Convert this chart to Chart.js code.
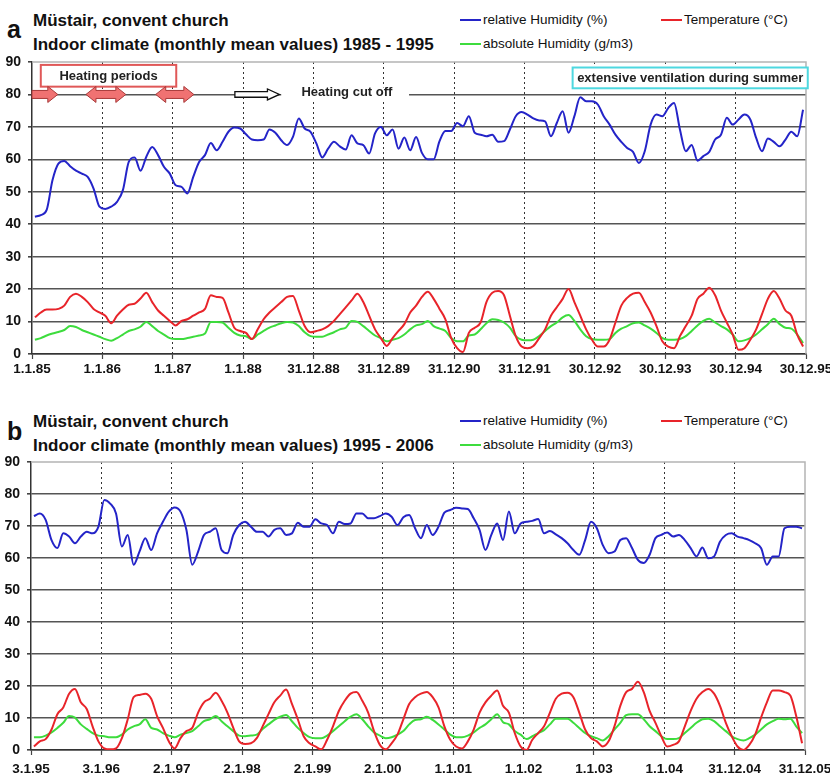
<!DOCTYPE html>
<html>
<head>
<meta charset="utf-8">
<script src="https://cdn.jsdelivr.net/npm/chart.js@4.4.1/dist/chart.umd.min.js"></script>
<style>
  body { margin: 0; background: #fff; }
  #page { position: relative; width: 830px; height: 775px; overflow: hidden; font-family: 'Liberation Sans', Arial, sans-serif; color: #111; }
  canvas { position: absolute; left: 0; }
  .letter { position: absolute; left: 7px; font-weight: bold; font-size: 25px; line-height: 25px; }
  .title { position: absolute; left: 33px; font-weight: bold; font-size: 17px; line-height: 17px; white-space: nowrap; }
  .leg { position: absolute; font-size: 13.5px; line-height: 13.5px; white-space: nowrap; }
  .sw { position: absolute; width: 21px; height: 2px; }
</style>
</head>
<body>
<div id="page">
  <div class="letter" style="top:17px">a</div>
  <div class="title" style="top:12px">Müstair, convent church</div>
  <div class="title" style="top:36px">Indoor climate (monthly mean values) 1985 - 1995</div>
  <div class="sw" style="left:460px;top:19px;background:#2424c8"></div>
  <div class="leg" style="left:483px;top:13px">relative Humidity (%)</div>
  <div class="sw" style="left:661px;top:19px;background:#e8242a"></div>
  <div class="leg" style="left:684px;top:13px">Temperature (°C)</div>
  <div class="sw" style="left:460px;top:43px;background:#3ddc3d"></div>
  <div class="leg" style="left:483px;top:37px">absolute Humidity (g/m3)</div>

  <div class="letter" style="top:419px">b</div>
  <div class="title" style="top:413px">Müstair, convent church</div>
  <div class="title" style="top:437px">Indoor climate (monthly mean values) 1995 - 2006</div>
  <div class="sw" style="left:460px;top:420px;background:#2424c8"></div>
  <div class="leg" style="left:483px;top:414px">relative Humidity (%)</div>
  <div class="sw" style="left:661px;top:420px;background:#e8242a"></div>
  <div class="leg" style="left:684px;top:414px">Temperature (°C)</div>
  <div class="sw" style="left:460px;top:444px;background:#3ddc3d"></div>
  <div class="leg" style="left:483px;top:438px">absolute Humidity (g/m3)</div>

  <canvas id="chartA" width="830" height="380" style="top:0"></canvas>
  <canvas id="chartB" width="830" height="375" style="top:400px"></canvas>
</div>
<script>
// monthly mean values, one per month (Jan 1985 .. Dec 1995)
const topRelHum = [42.3, 42.8, 44.4, 53.6, 58.7, 59.5, 57.9, 56.5, 55.6, 54.6, 51, 45.4,
  44.7, 45.4, 46.9, 50.5, 59.2, 60.6, 56.5, 60.8, 63.8, 61.3, 57.7, 55.6,
  52, 51.5, 49.5, 54.6, 59.2, 61.3, 65, 62.8, 65.4, 68.5, 69.8, 69.5,
  67.7, 66.1, 65.9, 66.1, 69.2, 68.2, 65.9, 64.4, 66.9, 72.6, 69.5, 68.5,
  64.9, 60.6, 63.3, 65.4, 64, 63, 67.4, 64.9, 64.4, 61.8, 68, 70,
  67.4, 69.2, 63.3, 66.7, 62.8, 66.9, 62, 60, 60, 65.6, 68.7, 68.7,
  71.2, 70.2, 73.3, 68.2, 67.6, 67.1, 67.6, 65.4, 65.6, 69.2, 73.3, 74.6,
  73.8, 72.6, 72, 71.7, 67.1, 71.2, 74.8, 68.2, 73.3, 79.1, 77.9, 77.9,
  76.9, 73.3, 70.7, 67.6, 65.4, 63.5, 62.3, 58.9, 62.5, 70.7, 73.8, 73.3,
  75.8, 77.4, 69.2, 62.5, 64.4, 59.6, 61, 62.3, 66.1, 67.6, 72.8, 70.7,
  72.3, 73.8, 72.3, 66.6, 62.5, 66.4, 65.4, 64, 66.1, 68.5, 67.1, 75.3];
const topTemp = [11.3, 12.8, 13.7, 13.7, 13.9, 14.9, 17.6, 18.6, 17.6, 16, 13.9, 12.8,
  11.8, 9.5, 11.8, 13.7, 15.2, 15.5, 17.1, 18.9, 16, 13.4, 11.8, 10.2,
  8.8, 10.2, 10.7, 11.8, 12.8, 13.9, 18.1, 17.6, 17.3, 12.8, 8.1, 7.1,
  6.5, 4.6, 7.6, 10.7, 12.8, 14.4, 16, 17.6, 17.9, 13.4, 8.6, 6.7,
  7.1, 7.6, 8.6, 10.2, 12.3, 14.4, 16.5, 18.6, 16, 11.8, 7.6, 4.9,
  2.5, 4.9, 7.1, 9.2, 12.8, 14.9, 17.6, 19.2, 17, 13.9, 10.7, 4.9,
  1.8, 0.6, 6.5, 8.1, 9.7, 16, 18.9, 19.4, 18.1, 11.8, 5.5, 2.3,
  1.8, 2.5, 4.9, 7.6, 11.8, 14.4, 17, 20, 16, 11.8, 7.6, 4.4,
  2.3, 2.3, 4.4, 9.7, 14.9, 17.3, 18.6, 18.9, 16, 12.8, 8.6, 3.9,
  2.3, 1.8, 5.5, 8.6, 11.8, 17, 18.6, 20.4, 18.1, 13.4, 9.7, 6,
  1.3, 1.8, 4.4, 7.6, 12.3, 17, 19.4, 17, 13.4, 11.8, 6, 2.3];
const topAbsHum = [4.4, 4.9, 5.7, 6.3, 6.8, 7.4, 8.6, 8.3, 7.4, 6.7, 6, 5.3,
  4.6, 4.1, 4.9, 6, 7.1, 7.6, 8.4, 9.9, 8.6, 7.1, 6, 4.9,
  4.6, 4.6, 4.9, 5.3, 5.7, 6.3, 9.9, 9.9, 9.7, 8.1, 6.5, 5.7,
  5.5, 4.6, 6, 7.1, 8.1, 8.8, 9.5, 9.9, 9.7, 8.6, 6.7, 5.5,
  5.3, 5.3, 6, 6.7, 7.6, 8.1, 10.2, 9.9, 8.6, 7.1, 5.7, 4.9,
  3.9, 4.4, 4.9, 6, 7.6, 8.8, 9.2, 10.2, 8.6, 7.8, 7.1, 4.9,
  3.9, 3.9, 5.7, 6, 7.6, 9.5, 10.7, 10.5, 9.7, 8.1, 5.5, 4.4,
  4.2, 4.4, 5.5, 7.1, 8.6, 9.7, 11.3, 12, 10.2, 7.6, 5.5, 4.6,
  4.4, 4.4, 4.6, 6.5, 7.8, 8.6, 9.5, 9.7, 8.8, 7.8, 6.5, 4.9,
  4.4, 4.4, 4.6, 5.5, 7.1, 8.8, 10.2, 10.9, 9.7, 8.6, 7.6, 6,
  3.9, 4.2, 4.9, 6, 7.6, 9.2, 10.9, 9.2, 8.1, 7.8, 6, 3.4];

// monthly mean values, Jan 1995 .. Dec 2005
const botRelHum = [73.1, 73.9, 71.9, 65.6, 63.1, 67.7, 66.7, 64.6, 66.7, 68.2, 67.7, 69.8,
  78.1, 77, 73.9, 63.6, 67.2, 57.9, 62, 66.2, 62.5, 67.7, 71.3, 74.5,
  75.8, 74.5, 68.8, 57.9, 62, 67.2, 68.2, 69.3, 62.5, 61.5, 67.2, 70.3,
  71.3, 69.8, 68.2, 68.2, 66.7, 68.8, 69.3, 67.2, 67.7, 71, 69.8, 69.8,
  72.1, 70.8, 70.3, 67.7, 71.3, 70.6, 70.8, 73.9, 73.9, 72.4, 72.4, 73.1,
  73.9, 72.9, 70.3, 72.7, 73.4, 69.3, 66.2, 70.3, 67.2, 69.8, 74.2, 75,
  75.7, 75.5, 75.3, 72.4, 68.8, 62.5, 67.2, 70.8, 65.6, 74.5, 67.7, 70.8,
  71.3, 71.6, 72.2, 67.7, 68.4, 67.4, 66.2, 64.6, 62.5, 61, 65.6, 71.3,
  69.3, 64.1, 61.5, 62, 65.6, 66.2, 63.1, 59.4, 58.4, 61, 66.2, 67.2,
  68, 66.7, 67.2, 65.6, 63.1, 60.5, 63.3, 59.9, 60.5, 65.1, 67.2, 67.7,
  66.7, 66.2, 65.6, 64.6, 63.1, 57.9, 60.5, 60.5, 69.3, 69.8, 69.8, 69.3];
const botTemp = [1.1, 2.7, 3.4, 6.4, 11.2, 13.3, 17.6, 19.1, 14.9, 12.8, 7.4, 2.7,
  0.5, 0.2, 0.5, 3.7, 9.6, 16.5, 17.2, 17.6, 16, 10.6, 6.9, 2.7,
  0.5, 3.7, 5.9, 6.9, 11.7, 14.9, 16, 17.9, 15.4, 11.7, 6.9, 2.7,
  1.9, 2.1, 3.7, 7.4, 11.2, 14.9, 17, 18.9, 14.4, 9.6, 4.3, 2.1,
  1.1, 0.2, 3.2, 7.4, 12.2, 15.4, 17.6, 18.1, 15.4, 11.7, 5.9, 1.6,
  0.2, 2.1, 4.8, 9.6, 14.4, 16.5, 17.6, 18.1, 16.5, 13.3, 7.4, 3.2,
  1.1, 0.5, 2.7, 6.4, 11.7, 14.9, 17, 18.6, 13.8, 11.7, 5.3, 1.1,
  0, 3.2, 5.3, 7.4, 11.7, 16, 17.6, 17.9, 16.5, 11.7, 6.4, 3.7,
  2.7, 1.1, 2.7, 7.4, 13.8, 18.1, 19.1, 21.3, 18.1, 12.2, 8.5, 4.3,
  1.1, 1.6, 2.7, 7.4, 12.2, 16, 18.1, 19.1, 17.6, 13.8, 8.5, 4.3,
  1.1, 0, 1.6, 4.8, 10.1, 14.9, 18.6, 18.6, 18.1, 17, 10.6, 2.1];
const botAbsHum = [4, 4, 4.5, 5.5, 6.9, 8.5, 10.6, 10.1, 8, 6.6, 5.3, 4.5,
  4.3, 4, 4, 4.8, 6.4, 7.4, 8, 9.6, 6.9, 6.4, 5.3, 4.5,
  4, 4.8, 5.3, 5.9, 7.4, 9, 9.6, 10.6, 9, 7.4, 5.9, 4.5,
  4.3, 4.5, 4.8, 6.6, 8, 9.4, 10.4, 10.9, 9, 6.9, 5.3, 4,
  3.7, 3.7, 4.5, 5.9, 7.4, 9, 10.4, 11.2, 9.6, 7.4, 5.5, 4.5,
  3.7, 4, 4.8, 5.9, 8, 9.4, 9.6, 10.4, 9.4, 8, 6.4, 4.8,
  4, 4, 4.5, 5.5, 6.9, 8, 9.6, 11.2, 8.7, 8, 5.9, 4.8,
  3.4, 4.3, 5.3, 6.2, 8, 9.8, 9.8, 9.8, 8.5, 6.9, 5.3, 4.3,
  3.7, 3, 4.3, 6.4, 8.5, 10.9, 11.2, 11.2, 9.6, 7.4, 5.9, 4.3,
  3.4, 3.4, 3.7, 5.3, 6.9, 8.5, 9.6, 9.8, 9, 7.4, 5.9, 4.3,
  3.4, 3, 3.7, 4.8, 6.4, 8, 9, 9.8, 9.6, 9.8, 7.4, 5.3];

const topTicks = ['1.1.85', '1.1.86', '1.1.87', '1.1.88', '31.12.88', '31.12.89', '31.12.90',
  '31.12.91', '30.12.92', '30.12.93', '30.12.94', '30.12.95'];
const botTicks = ['3.1.95', '3.1.96', '2.1.97', '2.1.98', '2.1.99', '2.1.00', '1.1.01',
  '1.1.02', '1.1.03', '1.1.04', '31.12.04', '31.12.05'];

// heating periods (start month, end month) and the heating cut-off arrow
const heatingPeriods = [[0, 4.4], [9.2, 16.0], [21.1, 27.6]];
const heatingCutOff = [34.6, 42.2];

Chart.defaults.font.family = "'Liberation Sans', Arial, sans-serif";
Chart.defaults.color = '#111';

const series = (vals) => vals.map((v, i) => ({x: i + 0.5, y: v}));

function arrow(ctx, x1, x2, y, both, bh, hh, hl) {
  ctx.beginPath();
  ctx.moveTo(both ? x1 + hl : x1, y - bh);
  ctx.lineTo(x2 - hl, y - bh);
  ctx.lineTo(x2 - hl, y - hh);
  ctx.lineTo(x2, y);
  ctx.lineTo(x2 - hl, y + hh);
  ctx.lineTo(x2 - hl, y + bh);
  if (both) {
    ctx.lineTo(x1 + hl, y + bh);
    ctx.lineTo(x1 + hl, y + hh);
    ctx.lineTo(x1, y);
    ctx.lineTo(x1 + hl, y - hh);
  } else {
    ctx.lineTo(x1, y + bh);
  }
  ctx.closePath();
  ctx.fill();
  ctx.stroke();
}

function labelBox(ctx, x1, y1, x2, y2, color, text) {
  ctx.fillStyle = '#fff';
  ctx.fillRect(x1, y1, x2 - x1, y2 - y1);
  ctx.strokeStyle = color;
  ctx.lineWidth = 2;
  ctx.strokeRect(x1, y1, x2 - x1, y2 - y1);
  ctx.fillStyle = '#222';
  ctx.font = "bold 13px 'Liberation Sans', Arial, sans-serif";
  ctx.textAlign = 'center';
  ctx.textBaseline = 'middle';
  ctx.fillText(text, (x1 + x2) / 2, (y1 + y2) / 2 + 1);
}

const frame = {
  id: 'frame',
  beforeDatasetsDraw(chart) {
    const {ctx, chartArea: a} = chart;
    ctx.save();
    ctx.strokeStyle = '#b4b4b4';
    ctx.lineWidth = 1.5;
    ctx.beginPath();
    ctx.moveTo(a.left, a.top);
    ctx.lineTo(a.right, a.top);
    ctx.lineTo(a.right, a.bottom);
    ctx.stroke();
    ctx.restore();
  }
};

const notes = {
  id: 'notes',
  afterDraw(chart) {
    const {ctx, scales: {x, y}} = chart;
    const y80 = y.getPixelForValue(80);
    ctx.save();
    labelBox(ctx, x.getPixelForValue(1.5), y.getPixelForValue(89.1), x.getPixelForValue(24.6), y.getPixelForValue(82.4), '#e05858', 'Heating periods');

    ctx.fillStyle = '#f07272';
    ctx.strokeStyle = '#a83a3a';
    ctx.lineWidth = 1;
    heatingPeriods.forEach((p, i) => arrow(ctx, x.getPixelForValue(p[0]), x.getPixelForValue(p[1]), y80, i > 0, 4, 8, 10));

    ctx.fillStyle = '#fff';
    ctx.fillRect(x.getPixelForValue(42.5), y80 - 7, x.getPixelForValue(64.3) - x.getPixelForValue(42.5), 14);
    ctx.strokeStyle = '#111';
    ctx.lineWidth = 1.3;
    arrow(ctx, x.getPixelForValue(heatingCutOff[0]), x.getPixelForValue(heatingCutOff[1]), y80, false, 2.8, 5.5, 12);
    ctx.fillStyle = '#222';
    ctx.font = "bold 13px 'Liberation Sans', Arial, sans-serif";
    ctx.textAlign = 'center';
    ctx.textBaseline = 'middle';
    ctx.fillText('Heating cut off', x.getPixelForValue(53.7), y80 - 2);

    labelBox(ctx, x.getPixelForValue(92.2), y.getPixelForValue(88.3), x.getPixelForValue(132.3), y.getPixelForValue(81.9), '#4ed8e0', 'extensive ventilation during summer');
    ctx.restore();
  }
};

function makeChart(id, rh, temp, ah, ticks, box, plugins) {
  return new Chart(document.getElementById(id), {
    type: 'line',
    data: {
      datasets: [
        {label: 'relative Humidity (%)', data: series(rh), borderColor: '#2424c8'},
        {label: 'Temperature (°C)', data: series(temp), borderColor: '#e8242a'},
        {label: 'absolute Humidity (g/m3)', data: series(ah), borderColor: '#3ddc3d'}
      ]
    },
    options: {
      responsive: false,
      animation: false,
      devicePixelRatio: 1,
      elements: {
        line: {borderWidth: 2, tension: 0.4, cubicInterpolationMode: 'monotone'},
        point: {radius: 0}
      },
      layout: {padding: {top: 62, right: box.right, left: 0, bottom: 0}},
      plugins: {legend: {display: false}, tooltip: {enabled: false}},
      scales: {
        x: {
          type: 'linear',
          min: 0,
          max: 132,
          afterFit(s) { s.height = box.xh; s.paddingLeft = 0; s.paddingRight = 0; },
          grid: {
            color: (c) => (c.tick.value === 0 || c.tick.value === 132) ? 'rgba(0,0,0,0)' : '#333',
            lineWidth: 1,
            tickLength: 5,
            tickColor: '#444',
            tickWidth: 1.2
          },
          border: {color: '#333', width: 1.5, dash: [2, 3]},
          ticks: {
            stepSize: 12,
            autoSkip: false,
            maxRotation: 0,
            padding: box.tp,
            font: {size: 13.5, weight: 'bold'},
            callback: (v) => ticks[v / 12]
          }
        },
        y: {
          min: 0,
          max: 90,
          afterFit(s) { s.width = box.yw; s.paddingTop = 0; s.paddingBottom = 0; },
          grid: {
            color: (c) => c.tick.value === 90 ? 'rgba(0,0,0,0)' : '#555',
            lineWidth: 1.6,
            tickLength: 4,
            tickColor: '#444'
          },
          border: {color: '#333', width: 1.5},
          ticks: {stepSize: 10, padding: 7, font: {size: 14, weight: 'bold'}}
        }
      }
    },
    plugins: plugins
  });
}

makeChart('chartA', topRelHum, topTemp, topAbsHum, topTicks, {right: 24, xh: 26, yw: 32, tp: 2}, [frame, notes]);
makeChart('chartB', botRelHum, botTemp, botAbsHum, botTicks, {right: 25, xh: 25, yw: 31, tp: 6}, [frame]);
</script>
</body>
</html>
